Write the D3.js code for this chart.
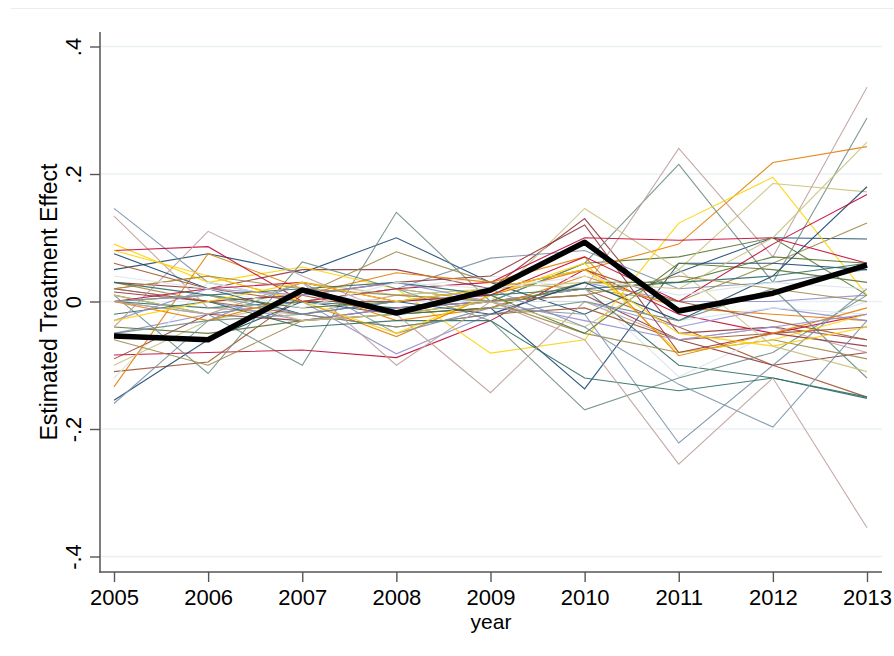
<!DOCTYPE html>
<html>
<head>
<meta charset="utf-8">
<script src="https://cdn.jsdelivr.net/npm/d3@7"></script>
<style>
  html, body { margin: 0; padding: 0; background: #fff; }
  svg { display: block; }
  text { font-family: "Liberation Sans", Arial, sans-serif; fill: #000; }
</style>
</head>
<body>
<script>
// ---------------- DATA ----------------
const years = [2005, 2006, 2007, 2008, 2009, 2010, 2011, 2012, 2013];
const yTicks = [-0.4, -0.2, 0, 0.2, 0.4];
const yTickLabels = ["-.4", "-.2", "0", ".2", ".4"];
const xLabel = "year";
const yLabel = "Estimated Treatment Effect";

// Treated unit (thick black line)
const treated = [-0.054, -0.06, 0.018, -0.018, 0.018, 0.093, -0.015, 0.013, 0.057];

// Placebo estimates, grouped by series colour (three units per group)
const placeboNavy = [
  [0.05, 0.075, 0.045, 0.10, 0.03, -0.02, 0.046, 0.10, 0.098],
  [-0.155, -0.06, 0.0, -0.02, -0.01, -0.137, 0.06, 0.06, 0.05],
  [0.075, 0.02, -0.02, 0.0, -0.02, 0.03, -0.03, 0.04, 0.18]
];
const placeboMaroon = [
  [0.03, 0.02, 0.05, 0.05, 0.02, 0.13, -0.05, -0.04, -0.06],
  [-0.09, -0.02, -0.03, -0.01, 0.0, 0.01, -0.06, -0.1, -0.08],
  [0.015, 0.0, 0.01, 0.03, 0.04, 0.12, -0.08, -0.05, -0.07]
];
const placeboForest = [
  [0.01, -0.02, 0.0, 0.02, 0.0, 0.06, 0.07, 0.1, 0.01],
  [-0.04, -0.05, -0.03, -0.02, -0.01, 0.03, 0.03, 0.07, 0.06],
  [0.0, 0.01, -0.01, 0.0, 0.01, -0.05, 0.06, 0.05, 0.03]
];
const placeboOrange = [
  [0.02, 0.04, 0.0, -0.055, 0.01, 0.05, 0.09, 0.218, 0.243],
  [-0.134, 0.075, 0.02, -0.03, -0.01, 0.04, -0.01, -0.02, -0.03],
  [0.0, -0.03, 0.01, 0.045, 0.03, 0.07, -0.085, -0.05, -0.01]
];
const placeboTeal = [
  [0.0, -0.02, -0.1, 0.14, 0.0, 0.06, 0.215, 0.03, 0.288],
  [0.01, -0.113, 0.062, 0.02, -0.03, -0.17, -0.12, -0.08, 0.01],
  [-0.05, -0.03, -0.02, -0.04, -0.02, 0.0, -0.03, 0.02, -0.12]
];
const placeboCranberry = [
  [-0.084, -0.08, -0.076, -0.088, -0.03, 0.05, -0.02, -0.05, -0.02],
  [0.08, 0.086, 0.0, 0.02, 0.03, 0.1, 0.096, 0.1, 0.06],
  [0.0, 0.02, 0.03, 0.0, 0.01, 0.07, 0.0, 0.09, 0.168]
];
const placeboLavender = [
  [-0.05, -0.02, 0.0, -0.082, -0.02, 0.03, 0.0, 0.0, 0.01],
  [0.02, 0.0, -0.03, -0.01, 0.0, 0.0, -0.04, -0.01, -0.03],
  [-0.03, 0.02, 0.01, 0.03, 0.0, -0.03, -0.06, -0.04, -0.02]
];
const placeboKhaki = [
  [-0.1, -0.03, 0.0, 0.02, 0.0, 0.146, 0.05, 0.185, 0.172],
  [0.01, -0.02, 0.03, 0.01, 0.02, 0.03, 0.02, 0.1, 0.25],
  [0.0, 0.01, -0.03, -0.02, 0.0, -0.04, 0.05, -0.07, -0.11]
];
const placeboSienna = [
  [-0.11, -0.095, 0.01, -0.02, 0.0, 0.02, -0.04, -0.1, -0.15],
  [0.02, 0.0, -0.02, -0.04, -0.02, -0.01, -0.06, -0.05, -0.04],
  [0.06, 0.02, 0.0, 0.0, 0.02, 0.05, 0.0, -0.03, -0.06]
];
const placeboEmidblue = [
  [0.146, 0.03, 0.0, 0.02, 0.068, 0.08, 0.02, 0.03, 0.05],
  [-0.16, -0.03, 0.03, -0.05, -0.01, -0.02, -0.222, -0.1, 0.02],
  [0.0, 0.01, -0.02, 0.0, 0.02, -0.04, -0.13, -0.197, -0.03]
];
const placeboEmerald = [
  [0.0, -0.01, 0.0, -0.01, 0.0, 0.02, -0.1, -0.12, -0.152],
  [-0.02, 0.0, -0.04, -0.03, -0.03, -0.12, -0.14, -0.12, -0.15],
  [0.03, 0.01, 0.02, 0.03, 0.01, 0.02, 0.03, 0.04, 0.06]
];
const placeboBrown = [
  [0.03, 0.0, 0.01, 0.078, 0.03, 0.02, 0.0, 0.06, 0.123],
  [-0.06, -0.1, -0.03, -0.02, 0.0, -0.05, -0.08, -0.06, -0.09],
  [0.02, 0.04, 0.02, 0.01, 0.0, 0.01, 0.04, 0.02, 0.0]
];
const placeboErose = [
  [0.134, -0.01, -0.02, 0.01, 0.0, 0.02, 0.24, 0.07, 0.336],
  [-0.04, 0.11, 0.04, -0.02, -0.143, 0.0, -0.06, -0.04, -0.08],
  [0.0, -0.02, 0.03, -0.1, 0.0, -0.06, -0.255, -0.12, -0.355]
];
const placeboGold = [
  [0.09, 0.03, 0.054, 0.02, -0.081, -0.06, 0.123, 0.195, 0.01],
  [0.08, 0.04, 0.0, -0.05, 0.01, 0.06, -0.08, -0.06, -0.02],
  [-0.03, 0.0, 0.03, 0.0, 0.02, 0.05, -0.05, -0.07, -0.04]
];
const placeboBluishgray = [
  [-0.12, 0.03, 0.0, 0.02, 0.04, 0.02, -0.118, -0.05, 0.0],
  [0.0, 0.02, 0.01, 0.0, 0.0, 0.0, -0.03, -0.01, -0.02],
  [0.04, 0.02, -0.01, 0.03, 0.02, 0.04, 0.01, 0.03, 0.02]
];

// ---------------- STYLE ----------------
const groups = [
  [placeboNavy, "#1a476f"],
  [placeboMaroon, "#90353b"],
  [placeboForest, "#55752f"],
  [placeboOrange, "#e37e00"],
  [placeboTeal, "#6e8e84"],
  [placeboCranberry, "#c10534"],
  [placeboLavender, "#938dd2"],
  [placeboKhaki, "#cac27e"],
  [placeboSienna, "#a0522d"],
  [placeboEmidblue, "#7b92a8"],
  [placeboEmerald, "#2d6d66"],
  [placeboBrown, "#9c8847"],
  [placeboErose, "#bfa19c"],
  [placeboGold, "#ffd200"],
  [placeboBluishgray, "#d9e6eb"]
];

const W = 894, H = 656;
const svg = d3.select("body").append("svg").attr("width", W).attr("height", H);

const x = d3.scaleLinear().domain([2005, 2013]).range([114, 867]);
const y = d3.scaleLinear().domain([-0.4, 0.4]).range([556.5, 46.5]);
const plotL = 100, plotR = 882, plotT = 32, plotB = 572;

// outer border hint
svg.append("line").attr("x1", 11).attr("x2", W).attr("y1", 8.5).attr("y2", 8.5)
  .attr("stroke", "#e6eef0").attr("stroke-width", 1.2);

// gridlines
svg.append("g").selectAll("line").data(yTicks).join("line")
  .attr("x1", plotL).attr("x2", plotR)
  .attr("y1", d => y(d)).attr("y2", d => y(d))
  .attr("stroke", "#eaf1f3").attr("stroke-width", 1.6);

// placebo lines
const line = d3.line().x((d, i) => x(years[i])).y(d => y(d));
const series = [];
for (let k = 0; k < 3; k++) {
  groups.forEach(([arr, col]) => series.push({ v: arr[k], col }));
}
svg.append("g").selectAll("path").data(series).join("path")
  .attr("d", d => line(d.v))
  .attr("fill", "none")
  .attr("stroke", d => d.col)
  .attr("stroke-width", 1.1)
  .attr("stroke-opacity", 0.9);

// treated line
svg.append("path").attr("d", line(treated))
  .attr("fill", "none").attr("stroke", "#000")
  .attr("stroke-width", 5.5).attr("stroke-linejoin", "round");

// axes
const yAxis = d3.axisLeft(y).tickValues(yTicks).tickSize(10).tickFormat((d, i) => yTickLabels[i]);
const gy = svg.append("g").attr("transform", `translate(${plotL},0)`).call(yAxis);
gy.select(".domain").remove();
gy.selectAll(".tick line").attr("stroke", "#555").attr("stroke-width", 1.4);
gy.selectAll(".tick text")
  .attr("x", 0).attr("dy", null).attr("y", 0)
  .attr("transform", "translate(-19,0) rotate(-90)")
  .attr("text-anchor", "middle")
  .style("font-size", "22px").style("font-family", "'Liberation Sans', Arial, sans-serif").attr("fill", "#000");

const xAxis = d3.axisBottom(x).tickValues(years).tickSize(10).tickFormat(d3.format("d"));
const gx = svg.append("g").attr("transform", `translate(0,${plotB})`).call(xAxis);
gx.select(".domain").remove();
gx.selectAll(".tick line").attr("stroke", "#555").attr("stroke-width", 1.4);
gx.selectAll(".tick text").attr("y", 33).attr("dy", null)
  .style("font-size", "22px").style("font-family", "'Liberation Sans', Arial, sans-serif").attr("fill", "#000");

svg.append("line").attr("x1", plotL).attr("x2", plotL).attr("y1", plotT).attr("y2", plotB + 0.7)
  .attr("stroke", "#555").attr("stroke-width", 1.5);
svg.append("line").attr("x1", plotL - 0.7).attr("x2", plotR).attr("y1", plotB).attr("y2", plotB)
  .attr("stroke", "#555").attr("stroke-width", 1.5);

// axis titles
svg.append("text").attr("x", (plotL + plotR) / 2).attr("y", 629)
  .attr("text-anchor", "middle").style("font-size", "21px").text(xLabel);
svg.append("text").attr("transform", `translate(57,${(plotT + plotB) / 2}) rotate(-90)`)
  .attr("text-anchor", "middle").style("font-size", "23px").text(yLabel);
</script>
</body>
</html>
